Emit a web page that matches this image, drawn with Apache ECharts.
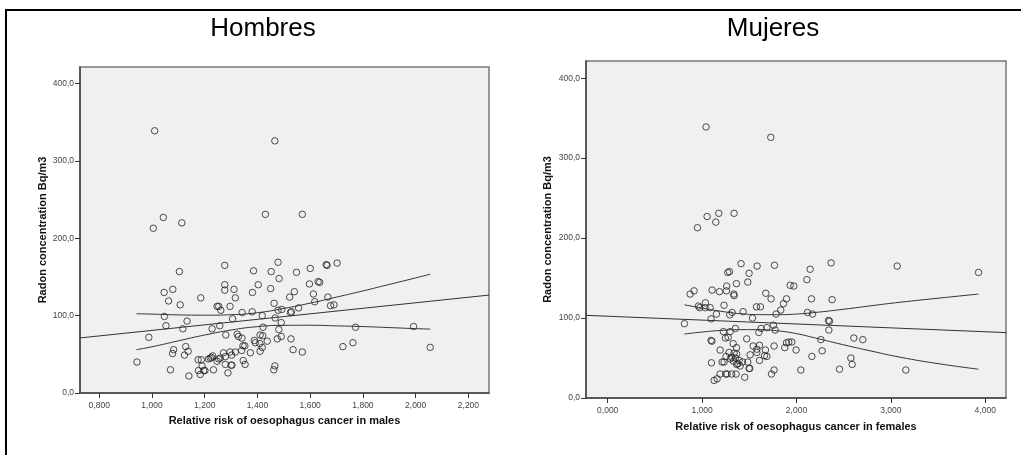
<!DOCTYPE html>
<html>
<head>
<meta charset="utf-8">
<script src="https://cdn.jsdelivr.net/npm/echarts@6/dist/echarts.min.js"></script>
<style>
  html, body { margin: 0; padding: 0; background: #fff; }
  #chart { width: 1021px; height: 455px; }
</style>
</head>
<body>
<div id="chart"></div>
<script>
// ---------- DATA ----------
const titles = ['Hombres', 'Mujeres'];
const xNames = ['Relative risk of oesophagus cancer in males', 'Relative risk of oesophagus cancer in females'];
const yName = 'Radon concentration Bq/m3';

const maleXTicks = [0.8, 1.0, 1.2, 1.4, 1.6, 1.8, 2.0, 2.2];
const femaleXTicks = [0, 1, 2, 3, 4];
const yTicks = [0, 100, 200, 300, 400];

// [relative risk (males), radon Bq/m3]
const malesPoints = [
  [1.010,339],[1.466,326],[1.043,227],[1.005,213],[1.113,220],[1.430,231],[1.570,231],
  [1.104,157],[1.276,165],[1.385,158],[1.452,157],[1.478,169],[1.600,161],[1.661,166],[1.664,165],[1.702,168],[1.548,156],[1.482,148],
  [1.046,130],[1.079,134],[1.276,140],[1.276,133],[1.311,134],[1.403,140],[1.450,135],[1.381,130],[1.540,131],[1.597,141],[1.630,144],[1.636,143],
  [1.063,119],[1.107,114],[1.185,123],[1.316,123],[1.247,112],[1.253,112],[1.261,107],[1.296,112],[1.463,116],[1.522,124],[1.612,128],[1.617,118],[1.667,124],[1.677,113],[1.690,114],[1.556,110],
  [1.342,104],[1.380,105],[1.418,100],[1.478,107],[1.492,108],[1.525,104],[1.529,105],[1.467,97],[1.306,96],[1.047,99],
  [1.053,87],[1.133,93],[1.257,87],[1.490,91],[1.421,85],[1.992,86],[1.772,85],
  [1.117,83],[1.228,83],[1.481,82],[0.988,72],[1.280,75],[1.323,76],[1.328,73],[1.341,71],[1.420,74],[1.410,75],[1.490,73],[1.475,70],[1.527,70],
  [1.388,68],[1.392,65],[1.437,67],[1.409,64],[1.762,65],[1.345,61],[1.352,61],[1.418,59],[1.724,60],[2.055,59],[1.128,60],
  [1.082,56],[1.078,51],[1.137,54],[1.123,49],[1.535,56],[1.570,53],[1.271,52],[1.296,53],[1.316,53],[1.302,49],[1.340,55],[1.373,52],[1.410,54],[1.230,48],[1.226,46],[1.278,47],[1.253,44],[1.259,45],[1.214,44],[1.221,45],[1.175,43],[1.187,43],[1.346,42],[1.247,41],
  [0.943,40],[1.190,35],[1.176,29],[1.196,29],[1.201,29],[1.183,24],[1.140,22],[1.070,30],[1.233,30],[1.278,37],[1.300,36],[1.303,36],[1.353,37],[1.288,26],[1.466,35],[1.462,30]
];

// [relative risk (females), radon Bq/m3]
const femalesPoints = [
  [1.042,339],[1.728,326],[1.053,227],[0.951,213],[1.145,220],[1.177,231],[1.339,231],
  [1.413,168],[1.583,165],[1.767,166],[2.367,169],[3.067,165],[3.929,157],[2.145,161],[1.498,156],[1.272,157],[1.290,158],[2.110,148],[1.484,145],[1.364,143],[1.933,141],[1.972,140],
  [0.873,130],[0.915,134],[1.106,135],[1.184,133],[1.261,140],[1.258,134],[1.336,130],[1.339,128],[1.675,131],[1.731,124],[1.894,124],[2.159,124],[2.378,123],
  [1.035,119],[1.233,116],[0.961,115],[0.975,113],[1.032,113],[1.085,113],[1.576,114],[1.618,114],[1.862,118],[1.834,110],[2.117,107],[2.170,105],[1.152,105],[1.293,104],[1.318,107],[1.435,108],[1.784,105],
  [1.095,99],[1.534,100],[2.339,97],[2.350,96],[0.813,93],[1.756,91],[1.353,87],[1.226,83],[1.601,82],[1.625,87],[1.686,88],[1.774,85],[2.343,85],[1.297,83],
  [1.247,75],[1.276,76],[1.473,74],[1.095,72],[1.104,71],[2.258,73],[2.608,75],[2.703,73],
  [1.329,68],[1.541,65],[1.608,66],[1.763,65],[1.876,63],[1.894,69],[1.919,70],[1.951,70],[1.364,63],[1.191,60],[1.580,61],[1.671,60],[1.996,60],[2.272,59],
  [1.286,57],[1.339,56],[1.367,55],[1.580,57],[1.509,54],[1.254,52],[1.314,51],[1.353,50],[1.661,53],[1.686,52],[2.163,52],[1.300,49],[1.392,47],[1.608,47],[2.576,50],
  [1.099,44],[1.212,45],[1.233,45],[1.332,46],[1.378,43],[1.428,45],[1.484,45],[1.367,42],[1.403,40],[2.590,42],[1.498,37],[1.505,37],
  [1.763,35],[2.046,35],[2.456,36],[3.159,35],[1.191,30],[1.251,30],[1.265,30],[1.314,30],[1.360,30],[1.735,30],[1.159,24],[1.127,22],[1.452,26]
];

// fit line and confidence band curves
const malesFit = [[0.727,71.2],[2.278,126.6]];
const malesUpper = [[0.941,102.5],[1.0,102],[1.1,101],[1.2,100.6],[1.3,101.2],[1.4,103.8],[1.5,109.3],[1.6,116.2],[1.7,124],[1.8,132],[1.9,140.4],[2.0,148.8],[2.055,153.6]];
const malesLower = [[0.941,56],[1.0,59.8],[1.1,67.4],[1.2,75],[1.3,81.4],[1.4,85.8],[1.5,87.5],[1.6,87.6],[1.7,86.8],[1.8,85.9],[1.9,84.6],[2.0,83.2],[2.055,82.6]];

const femalesFit = [[-0.23,103.4],[4.22,81.8]];
const femalesUpper = [[0.813,116.5],[1.0,112.5],[1.2,108.5],[1.4,105.5],[1.6,104.3],[1.8,104.2],[2.0,105],[2.2,107],[2.5,111],[2.8,115.5],[3.1,119.8],[3.5,124.8],[3.929,130]];
const femalesLower = [[0.813,80],[1.0,82.5],[1.2,84.5],[1.4,85.5],[1.6,85.5],[1.8,84],[2.0,80.5],[2.2,75],[2.5,66.5],[2.8,58.5],[3.1,51],[3.5,43],[3.929,36]];

// ---------- CHART ----------
const FONT = "'Liberation Sans', Arial, sans-serif";
const fmtX = v => v.toFixed(3).replace('.', ',');
const fmtY = v => v.toFixed(1).replace('.', ',');

function xAxis(gridIndex, min, max, ticks, name, nameGap) {
  return {
    type: 'value', gridIndex, min, max, name,
    nameLocation: 'middle', nameGap,
    nameTextStyle: { fontFamily: FONT, fontSize: 11, fontWeight: 'bold', color: '#111' },
    splitLine: { show: false },
    axisLine: { show: true, onZero: false, lineStyle: { color: '#444', width: 1.5 } },
    axisTick: { show: true, length: 5, customValues: ticks, lineStyle: { color: '#333', width: 1 } },
    axisLabel: { show: true, margin: 8, customValues: ticks, formatter: fmtX,
      fontFamily: FONT, fontSize: 8.5, color: '#444' }
  };
}
function yAxis(gridIndex, nameGap) {
  return {
    type: 'value', gridIndex, min: 0, max: 421.5, name: yName,
    nameLocation: 'middle', nameGap,
    nameTextStyle: { fontFamily: FONT, fontSize: 11, fontWeight: 'bold', color: '#111' },
    splitLine: { show: false },
    axisLine: { show: true, onZero: false, lineStyle: { color: '#444', width: 1.5 } },
    axisTick: { show: true, length: 5, customValues: yTicks, lineStyle: { color: '#333', width: 1 } },
    axisLabel: { show: true, margin: 6, customValues: yTicks, formatter: fmtY,
      fontFamily: FONT, fontSize: 8.5, color: '#444' }
  };
}
function scatter(i, data) {
  return {
    type: 'scatter', xAxisIndex: i, yAxisIndex: i, data,
    symbol: 'circle', symbolSize: 6.5,
    itemStyle: { color: 'rgba(0,0,0,0)', borderColor: '#222', borderWidth: 1 },
    silent: true, z: 3
  };
}
function curve(i, data, smooth) {
  return {
    type: 'line', xAxisIndex: i, yAxisIndex: i, data, smooth,
    showSymbol: false, symbol: 'none',
    lineStyle: { color: '#333', width: 1 }, silent: true, z: 4
  };
}

const chart = echarts.init(document.getElementById('chart'), null, { renderer: 'canvas' });
chart.setOption({
  animation: false,
  backgroundColor: '#fff',
  title: [
    { text: titles[0], left: 258, top: 11, textAlign: 'center',
      textStyle: { fontFamily: FONT, fontSize: 26, fontWeight: 'normal', color: '#000' } },
    { text: titles[1], left: 768, top: 11, textAlign: 'center',
      textStyle: { fontFamily: FONT, fontSize: 26, fontWeight: 'normal', color: '#000' } }
  ],
  graphic: [
    { type: 'polyline', shape: { points: [[6, 460], [6, 10], [1030, 10]] },
      style: { stroke: '#000', lineWidth: 2, fill: null }, silent: true }
  ],
  grid: [
    { left: 80, top: 67, width: 409, height: 326, show: true, backgroundColor: '#f0f0f0',
      borderColor: '#777', borderWidth: 1.5 },
    { left: 586, top: 61, width: 420, height: 337, show: true, backgroundColor: '#f0f0f0',
      borderColor: '#777', borderWidth: 1.5 }
  ],
  xAxis: [
    xAxis(0, 0.727, 2.278, maleXTicks, xNames[0], 22),
    xAxis(1, -0.23, 4.22, femaleXTicks, xNames[1], 23)
  ],
  yAxis: [ yAxis(0, 31.5), yAxis(1, 32.5) ],
  series: [
    scatter(0, malesPoints),
    curve(0, malesFit, false),
    curve(0, malesUpper, true),
    curve(0, malesLower, true),
    scatter(1, femalesPoints),
    curve(1, femalesFit, false),
    curve(1, femalesUpper, true),
    curve(1, femalesLower, true)
  ]
});
</script>
</body>
</html>
